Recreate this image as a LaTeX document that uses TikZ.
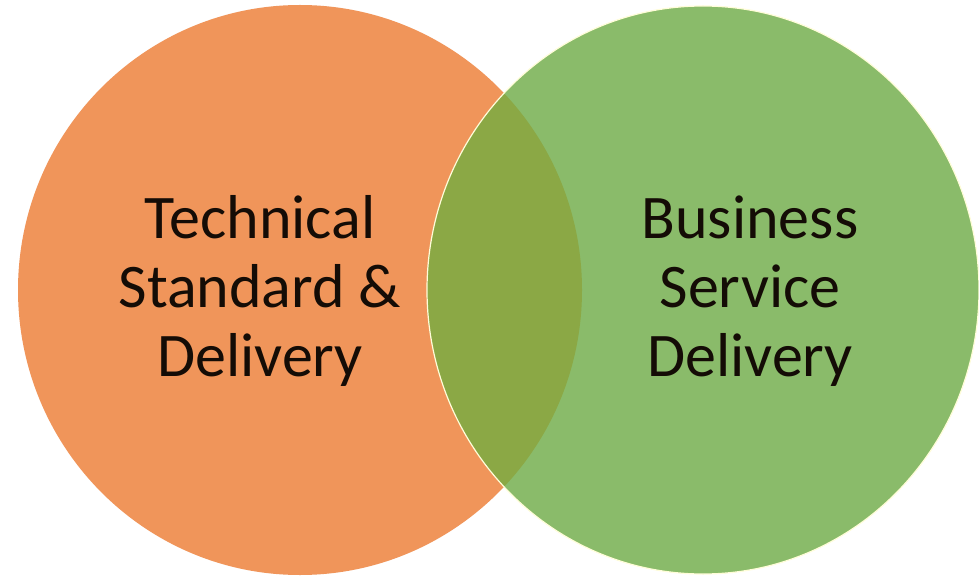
\documentclass[tikz,border=0pt]{standalone}
\usepackage{fontspec}
\setmainfont{Carlito}
\definecolor{orangefill}{HTML}{F0955A}
\definecolor{greenfill}{HTML}{8ABB6A}
\definecolor{overlapfill}{HTML}{8BA845}
\definecolor{textdark}{HTML}{140C06}
\begin{document}
\begin{tikzpicture}[x=1pt,y=-1pt,
  label/.style={align=center,text=textdark,font=\fontsize{62}{69}\selectfont,inner sep=0pt}]
\useasboundingbox (0,0) rectangle (979,577);
\fill[white] (0,0) rectangle (979,577);
% orange circle
\fill[orangefill] (300,290) ellipse [x radius=282, y radius=285];
% green circle
\fill[greenfill] (703,290) ellipse [x radius=276, y radius=284];
% overlap
\begin{scope}
  \clip (300,290) ellipse [x radius=282, y radius=285];
  \fill[overlapfill] (703,290) ellipse [x radius=276, y radius=284];
\end{scope}
% thin light rim of the green circle
\draw[white!85!yellow, line width=1.2pt] (703,290) ellipse [x radius=276, y radius=284];
\node[label] (tech) at (260,291) {Technical\\Standard \&\\Delivery};
\node[label] (biz) at (750,291) {Business\\Service\\Delivery};
\end{tikzpicture}
\end{document}
